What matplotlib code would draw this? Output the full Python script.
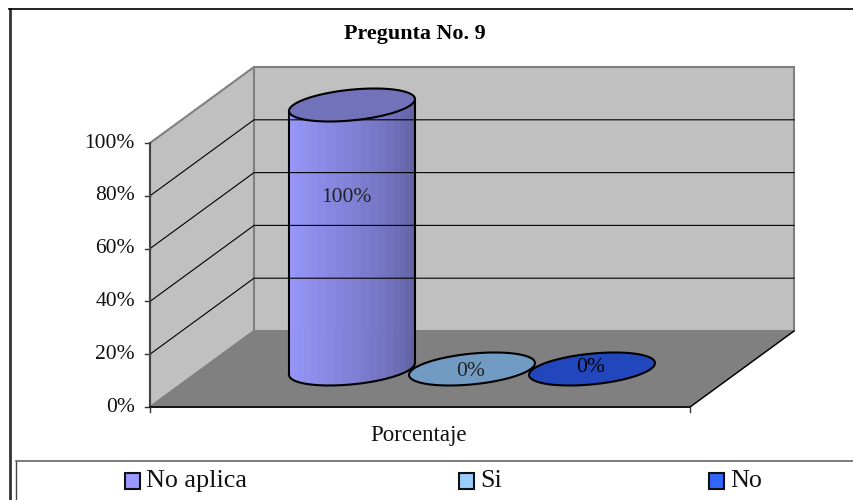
import numpy as np
import matplotlib
matplotlib.use("Agg")
import matplotlib.pyplot as plt
from matplotlib.patches import Polygon, Rectangle

plt.rcParams["font.family"] = ["Liberation Serif", "DejaVu Serif"]

# ---------------------------------------------------------------------------
# Data
# ---------------------------------------------------------------------------
categories = ["No aplica", "Si", "No"]
values = [100, 0, 0]
value_labels = ["100%", "0%", "0%"]
y_ticks = [0, 20, 40, 60, 80, 100]
y_labels = ["0%", "20%", "40%", "60%", "80%", "100%"]
x_label = "Porcentaje"
title = "Pregunta No. 9"

# ---------------------------------------------------------------------------
# Fake 3D projection, everything in image pixels
# ---------------------------------------------------------------------------
X0, X1 = 150, 690
Y_FLOOR, Y_TOP = 407, 143
DX, DY = 104, -76   # depth offset of the back wall
BAR_X0, BAR_STEP = 352, 120
SCALE = (Y_FLOOR - Y_TOP) / 100
SKEW = np.arctan2(22.6, 58.8)

WALL = "#c0c0c0"
FLOOR = "#808080"
EDGE = "#808080"
SIDE_COLORS = ["#9999ff", "#99ccff", "#3366ff"]
TOP_COLORS = ["#7272bb", "#729bc4", "#2247bd"]
LEGEND_X = [125, 459, 709]


def val_y(v, depth=0.0):
    return Y_FLOOR - v * SCALE + depth * DY


def ellipse(cx, cy, t):
    # circle lying on the floor plane, sheared along the depth direction
    return cx + 58.8 * np.cos(t) + 22.6 * np.sin(t), cy - 16.5 * np.sin(t)


fig = plt.figure(figsize=(8.54, 5.0), dpi=100)
ax = fig.add_axes([0, 0, 1, 1])
ax.set_xlim(0, 854)
ax.set_ylim(500, 0)
ax.axis("off")

# chart frame and legend box, both run off the picture
ax.plot([10, 10], [500, 9], color="#333333", lw=2)
ax.plot([9, 854], [9, 9], color="black", lw=1.2)
ax.plot([16, 16], [500, 461], color="#444444", lw=1)
ax.plot([16, 854], [461, 461], color="#666666", lw=1.2)

# walls and floor
ax.add_patch(Polygon([(X0, Y_FLOOR), (X0, Y_TOP), (X0 + DX, Y_TOP + DY), (X0 + DX, Y_FLOOR + DY)],
                     fc=WALL, ec=EDGE, lw=1.5))
ax.add_patch(Rectangle((X0 + DX, Y_TOP + DY), X1 - X0, Y_FLOOR - Y_TOP, fc=WALL, ec=EDGE, lw=1.5))
ax.add_patch(Polygon([(X0, Y_FLOOR), (X1, Y_FLOOR), (X1 + DX, Y_FLOOR + DY), (X0 + DX, Y_FLOOR + DY)],
                     fc=FLOOR, ec=FLOOR, lw=1))

# gridlines over wall and back
for v, lab in zip(y_ticks, y_labels):
    y = val_y(v)
    if 0 < v < 100:
        ax.plot([X0, X0 + DX, X1 + DX], [y, y + DY, y + DY], color="black", lw=0.8)
    ax.plot([X0 - 5, X0], [y, y], color="#333333", lw=1)
    ax.text(135, y, lab, ha="right", va="center", fontsize=15.5, color="#111111")

# axis lines in front
ax.plot([X0, X0], [Y_TOP, Y_FLOOR], color="#444444", lw=1.5)
ax.plot([X0, X1], [Y_FLOOR, Y_FLOOR], color="black", lw=1.2)
ax.plot([X1, X1 + DX], [Y_FLOOR, Y_FLOOR + DY], color="black", lw=1.0)
ax.plot([X0, X0], [Y_FLOOR, Y_FLOOR + 5], color="#333333", lw=1)
ax.plot([X1, X1], [Y_FLOOR, Y_FLOOR + 5], color="#333333", lw=1)

# cylinders
t = np.linspace(0, 2 * np.pi, 120)
for i, (v, lab) in enumerate(zip(values, value_labels)):
    cx = BAR_X0 + i * BAR_STEP
    cy_base = val_y(0, 0.5)
    cy_top = val_y(v, 0.5)
    if v > 0:
        # banded shading along the front half of the ellipse, left to right
        n = 22
        ts = np.linspace(np.pi + SKEW, 2 * np.pi + SKEW, n + 1)
        light = np.array(matplotlib.colors.to_rgb(SIDE_COLORS[i]))
        dark = light * 0.6
        for j in range(n):
            xa, ya = ellipse(cx, cy_base, ts[j:j + 2])
            xb, yb = ellipse(cx, cy_top, ts[j:j + 2])
            f = (j / (n - 1)) ** 1.3
            col = light * (1 - f) + dark * f
            ax.fill(list(xa) + list(xb[::-1]), list(ya) + list(yb[::-1]), color=col, lw=0.3)
        xa, ya = ellipse(cx, cy_base, ts)
        ax.plot(xa, ya, color="black", lw=1.5)
        xb, yb = ellipse(cx, cy_top, ts)
        ax.plot([xa[0], xb[0]], [ya[0], yb[0]], color="black", lw=1.5)
        ax.plot([xa[-1], xb[-1]], [ya[-1], yb[-1]], color="black", lw=1.5)
    ex, ey = ellipse(cx, cy_top, t)
    ax.fill(ex, ey, fc=TOP_COLORS[i], ec="black", lw=1.5, zorder=3)
    if v > 0:
        ax.text(cx - 6, (cy_top + cy_base) / 2 - 40, lab, ha="center", va="center",
                fontsize=15.5, color="#222222", zorder=4)
    else:
        ax.text(cx - 1, cy_top + 2 - (i - 1) * 4, lab, ha="center", va="center",
                fontsize=15.5, color="#222222" if i == 1 else "black", zorder=4)

ax.text(419, 435, x_label, ha="center", va="center", fontsize=16.5, color="#111111")
ax.text(415, 34, title, ha="center", va="center", fontsize=15.8, fontweight="bold", color="black")

# legend
for x, name, col in zip(LEGEND_X, categories, SIDE_COLORS):
    ax.add_patch(Rectangle((x, 473), 15, 16, fc=col, ec="#111111", lw=1.5))
    ax.text(x + 21, 481, name, ha="left", va="center", fontsize=18.8, color="#111111")

fig.savefig("out.png", dpi=100)
